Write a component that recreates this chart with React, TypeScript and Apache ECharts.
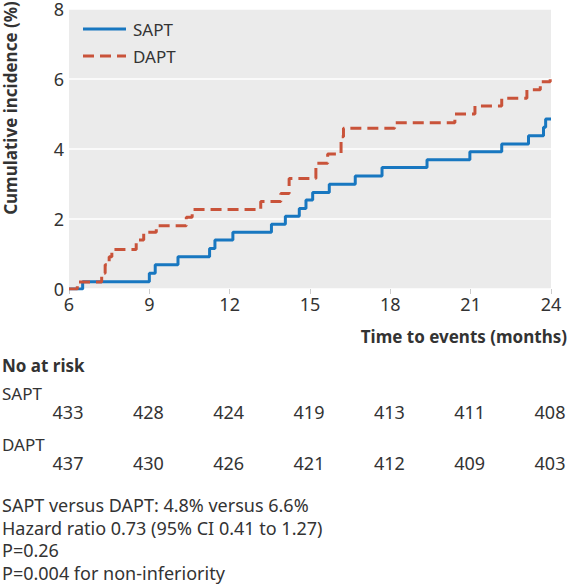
import React, { useEffect, useRef } from "react";
import * as echarts from "echarts";

const sapt: [number, number][] = [
  [6, 0], [6.51, 0.21], [9.0, 0.45], [9.22, 0.69], [10.07, 0.92], [11.25, 1.16], [11.45, 1.4],
  [12.12, 1.62], [13.56, 1.85], [14.08, 2.08], [14.6, 2.3], [14.85, 2.54], [15.1, 2.76],
  [15.72, 2.99], [16.69, 3.23], [17.69, 3.47], [19.37, 3.69], [20.97, 3.92], [22.16, 4.14],
  [23.16, 4.38], [23.72, 4.62], [23.8, 4.86], [24, 4.86],
];
const dapt: [number, number][] = [
  [6, 0], [6.31, 0.2], [7.22, 0.45], [7.35, 0.69], [7.5, 0.92], [7.6, 1.13], [8.51, 1.4],
  [8.79, 1.62], [9.26, 1.81], [10.38, 2.05], [10.6, 2.27], [13.16, 2.5], [13.91, 2.73],
  [14.22, 3.16], [15.22, 3.59], [15.66, 3.86], [16.16, 4.35], [16.25, 4.59], [18.16, 4.75],
  [20.41, 5.0], [21.16, 5.23], [22.16, 5.45], [23.1, 5.69], [23.6, 5.92], [23.97, 6.16],
];
const seriesNames = ["SAPT", "DAPT"];
const atRiskTimes = [6, 9, 12, 15, 18, 21, 24];
const atRiskSapt = [433, 428, 424, 419, 413, 411, 408];
const atRiskDapt = [437, 430, 426, 421, 412, 409, 403];
const footnotes = [
  "SAPT versus DAPT: 4.8% versus 6.6%",
  "Hazard ratio 0.73 (95% CI 0.41 to 1.27)",
  "P=0.26",
  "P=0.004 for non-inferiority",
];

const FONT = "'Noto Sans', sans-serif";
const TXT = "#333";
const BLUE = "#1877c0";
const RED = "#c9533a";
const DASH = [11, 6];

export default function App() {
  const ref = useRef<HTMLDivElement>(null);
  useEffect(() => {
    document.body.style.margin = "0";
    if (!ref.current) return;
    const chart = echarts.init(ref.current, undefined, { renderer: "svg" });

    chart.setOption({
      animation: false,
      textStyle: { fontFamily: FONT },
      grid: { left: 69, right: 17, top: 9, bottom: 297, backgroundColor: "#ebebeb", show: true, borderWidth: 0 },
      xAxis: {
        type: "value", min: 6, max: 24, interval: 3,
        axisLine: { show: false },
        axisTick: { show: true, length: 5, lineStyle: { color: "#cccccc" } },
        splitLine: { show: false },
        axisLabel: { fontSize: 18, color: TXT, margin: 6, lineHeight: 18 },
      },
      yAxis: {
        type: "value", min: 0, max: 8, interval: 2,
        axisLine: { show: false },
        axisTick: { show: false },
        splitLine: { show: true, lineStyle: { color: "#ffffff", width: 1.5 } },
        axisLabel: { fontSize: 18, color: TXT, margin: 5, lineHeight: 12 },
      },
      series: [
        {
          name: seriesNames[0], type: "line", step: "end", data: sapt, symbol: "none",
          lineStyle: { color: BLUE, width: 3 }, itemStyle: { color: BLUE },
        },
        {
          name: seriesNames[1], type: "line", step: "end", data: dapt, symbol: "none",
          lineStyle: { color: RED, width: 3, type: DASH }, itemStyle: { color: RED },
        },
      ],
    });

    const graphics: any[] = [];
    graphics.push({
      type: "text", x: 10, y: 108, rotation: Math.PI / 2,
      style: { text: "Cumulative incidence (%)", align: "center", verticalAlign: "middle", font: `bold 17px ${FONT}`, fill: TXT },
    });
    graphics.push({
      type: "text", x: 567, y: 336,
      style: { text: "Time to events (months)", align: "right", verticalAlign: "middle", font: `bold 17px ${FONT}`, fill: TXT },
    });
    // legend
    const legendRows: [string, string, boolean, number][] = [
      [seriesNames[0], BLUE, false, 29],
      [seriesNames[1], RED, true, 56],
    ];
    legendRows.forEach(([name, color, dashed, y]) => {
      graphics.push({
        type: "line", shape: { x1: 83, y1: y, x2: 126, y2: y },
        style: { stroke: color, lineWidth: 3, lineDash: dashed ? DASH : null },
      });
      graphics.push({
        type: "text", x: 133, y,
        style: { text: name, align: "left", verticalAlign: "middle", font: `17px ${FONT}`, fill: TXT },
      });
    });
    graphics.push({
      type: "text", x: 2, y: 365,
      style: { text: "No at risk", align: "left", verticalAlign: "middle", font: `bold 17px ${FONT}`, fill: TXT },
    });
    const rows: [string, number[], number][] = [
      [seriesNames[0], atRiskSapt, 393],
      [seriesNames[1], atRiskDapt, 444],
    ];
    rows.forEach(([name, vals, y]) => {
      graphics.push({
        type: "text", x: 2, y,
        style: { text: name, align: "left", verticalAlign: "middle", font: `17px ${FONT}`, fill: TXT },
      });
      vals.forEach((v, i) => {
        const px = chart.convertToPixel({ xAxisIndex: 0 }, atRiskTimes[i]) as number;
        graphics.push({
          type: "text", x: px - 1, y: y + 19,
          style: { text: String(v), align: "center", verticalAlign: "middle", font: `18px ${FONT}`, fill: TXT },
        });
      });
    });
    footnotes.forEach((t, i) => {
      graphics.push({
        type: "text", x: 2, y: 505 + 22.7 * i,
        style: { text: t, align: "left", verticalAlign: "middle", font: `18px ${FONT}`, fill: TXT },
      });
    });
    chart.setOption({ graphic: graphics });
    return () => chart.dispose();
  }, []);
  return <div ref={ref} style={{ width: 568, height: 586 }} />;
}
